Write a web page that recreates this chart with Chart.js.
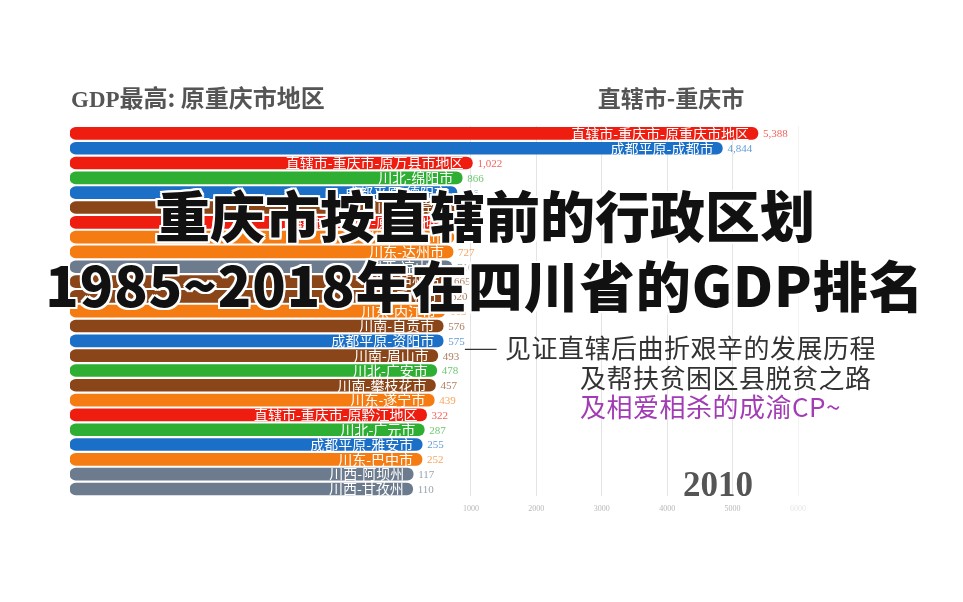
<!DOCTYPE html>
<html>
<head>
<meta charset="utf-8">
<script src="https://cdn.jsdelivr.net/npm/chart.js@4/dist/chart.umd.min.js"></script>
<style>
  html,body{margin:0;padding:0;background:#fff;}
  #wrap{position:relative;width:963px;height:602px;overflow:hidden;background:#fff;}
  #c{position:absolute;left:0;top:0;}
  .t{position:absolute;white-space:nowrap;font-family:"Noto Sans CJK SC","Noto Sans",sans-serif;line-height:1;}
  .big{left:0;width:970px;text-align:center;font-size:55px;font-weight:900;color:#111;
       text-shadow:2px 0 0 #fff,-2px 0 0 #fff,0 2px 0 #fff,0 -2px 0 #fff,2px 2px 0 #fff,-2px -2px 0 #fff,2px -2px 0 #fff,-2px 2px 0 #fff;}
  .sub{font-size:26px;color:#333;letter-spacing:0.5px;}
</style>
</head>
<body>
<div id="wrap">
  <canvas id="c" width="963" height="602"></canvas>
  <div class="t" style="left:71px;top:85px;font-size:24px;font-weight:700;color:#555;"><span style="font-family:'Liberation Serif',serif;font-size:23px;">GDP</span>最高: 原重庆市地区</div>
  <div class="t" style="left:571px;width:200px;text-align:center;top:86px;font-size:23px;font-weight:700;color:#555;">直辖市-重庆市</div>
  <div class="t big" style="top:186px;">重庆市按直辖前的行政区划</div>
  <div class="t big" style="top:256px;letter-spacing:1px;">1985~2018年在四川省的GDP排名</div>
  <div class="t sub" style="left:464px;top:337px;font-size:20px;color:#333;letter-spacing:-2px;">——</div>
  <div class="t sub" style="left:505px;top:334px;">见证直辖后曲折艰辛的发展历程</div>
  <div class="t sub" style="left:580px;top:364px;">及帮扶贫困区县脱贫之路</div>
  <div class="t sub" style="left:580px;top:393px;color:#a23cb4;">及相爱相杀的成渝CP~</div>
  <div class="t" style="left:683px;top:467px;font-size:35px;font-weight:700;color:#555;font-family:'Liberation Serif',serif;">2010</div>
</div>
<script>
// ---- data (year 2010, GDP 亿元) ----
const regions = ['直辖市-重庆市','成都平原','直辖市-重庆市','川北','成都平原','川南','直辖市-重庆市','川东','川东','川西','川南','川南','川东','川南','成都平原','川南','川北','川南','川东','直辖市-重庆市','川北','成都平原','川东','川西','川西'];
const places  = ['原重庆市地区','成都市','原万县市地区','绵阳市','德阳市','宜宾市','原涪陵地区','南充市','达州市','凉山州','泸州市','乐山市','内江市','自贡市','资阳市','眉山市','广安市','攀枝花市','遂宁市','原黔江地区','广元市','雅安市','巴中市','阿坝州','甘孜州'];
const values  = [5388,4844,1022,866,786,770,755,740,727,710,665,620,603,576,575,493,478,457,439,322,287,255,252,117,110];
const tickValues = [1000,2000,3000,4000,5000,6000];
const yearLabel = '2010';

// ---- styles ----
const regionColors = {
  '直辖市-重庆市':'#ee1d10',
  '成都平原':'#1c6fc6',
  '川北':'#2eaf33',
  '川南':'#8a4519',
  '川东':'#f57c12',
  '川西':'#6c7b8d'
};
const labels = places.map((p,i)=>regions[i]+'-'+p);
const colors = regions.map(r=>regionColors[r]);
const xMin = -5130, xMax = 6000;

const labelPlugin = {
  id:'barLabels',
  afterDatasetsDraw(chart){
    const ctx = chart.ctx;
    const meta = chart.getDatasetMeta(0);
    ctx.save();
    ctx.textBaseline = 'middle';
    meta.data.forEach((bar,i)=>{
      ctx.font = '14px "Noto Sans CJK SC", sans-serif';
      ctx.textAlign = 'right';
      ctx.fillStyle = '#ffffff';
      ctx.fillText(labels[i], bar.x - 9, bar.y);
      ctx.font = '11px "Liberation Serif", serif';
      ctx.textAlign = 'left';
      ctx.globalAlpha = 0.7;
      ctx.fillStyle = colors[i];
      ctx.fillText(values[i].toLocaleString('en-US'), bar.x + 5, bar.y + 1);
      ctx.globalAlpha = 1;
    });
    ctx.restore();
  }
};

new Chart(document.getElementById('c'), {
  type:'bar',
  data:{
    labels: labels,
    datasets:[{
      data: values,
      base: xMin,
      backgroundColor: colors,
      borderRadius: 6,
      borderSkipped: false,
      barThickness: 12
    }]
  },
  options:{
    indexAxis:'y',
    responsive:false,
    animation:false,
    devicePixelRatio:1,
    layout:{padding:{left:70,right:165,top:126,bottom:80}},
    plugins:{legend:{display:false},tooltip:{enabled:false}},
    scales:{
      x:{
        type:'linear', min:xMin, max:xMax,
        afterBuildTicks(scale){ scale.ticks = tickValues.map(v=>({value:v})); },
        ticks:{
          font:{size:8,family:'"Liberation Serif", serif'},
          color:(c)=> c.tick && c.tick.value===6000 ? '#e6e6e6' : '#b8b8b8',
          padding:8,
          maxRotation:0,
          autoSkip:false,
          callback:(v)=>String(v)
        },
        grid:{
          drawTicks:false,
          color:(c)=> c.tick && c.tick.value===6000 ? '#f3f3f3' : '#e4e4e4',
          lineWidth:1
        },
        border:{display:false}
      },
      y:{
        type:'category',
        display:false,
        offset:true,
        grid:{display:false}
      }
    }
  },
  plugins:[labelPlugin]
});
</script>
</body>
</html>
